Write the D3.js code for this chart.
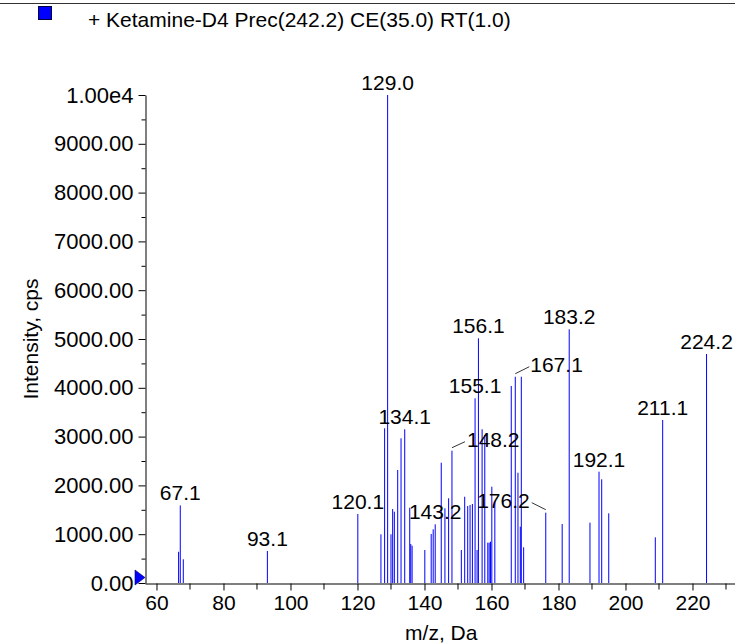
<!DOCTYPE html>
<html><head><meta charset="utf-8">
<script src="https://cdn.jsdelivr.net/npm/d3@7"></script>
<style>
html,body{margin:0;padding:0;background:#fff;}
svg{display:block;font-family:"Liberation Sans",Arial,sans-serif;}
</style></head>
<body><svg id="chart" width="735" height="644"></svg>
<script>
// ---- data ----
const seriesName = "+ Ketamine-D4 Prec(242.2) CE(35.0) RT(1.0)";
const peakMz = [66.6, 67.1, 68.0, 93.1, 120.1, 127.0, 128.1, 129.0, 130.0, 130.5, 131.0, 132.0, 133.0, 134.1, 135.6, 135.9, 136.3,
  140.1, 142.0, 142.6, 143.2, 145.0, 146.1, 147.2, 148.2, 151.0, 152.0, 152.9, 153.6, 154.3, 155.1, 155.7, 156.1, 157.2, 158.0,
  158.9, 159.3, 159.7, 160.1, 161.0, 165.9, 167.1, 167.9, 168.6, 168.9, 169.6, 176.2, 181.1, 183.2, 189.4, 192.1, 192.9, 195.0,
  208.9, 211.1, 224.2];
const peakIntensity = [640, 1590, 486, 656, 1414, 998, 3170, 10000, 998, 1516, 1461, 2316, 2965, 3150, 1543, 799, 764,
  676, 1004, 1100, 1203, 2465, 1531, 1736, 2711, 676, 1768, 1578, 1598, 1619, 3785, 676, 5014, 3150, 3033,
  826, 826, 846, 1973, 1666, 4037, 4227, 2260, 1154, 4227, 732, 1441, 1209, 5199, 1236, 2281, 2125, 1428,
  936, 3340, 4693];
const labelledMz = [67.1, 93.1, 120.1, 129.0, 134.1, 143.2, 148.2, 155.1, 156.1, 167.1, 176.2, 183.2, 192.1, 211.1, 224.2];
const xMajorTicks = [60, 80, 100, 120, 140, 160, 180, 200, 220];
const xMinorTicks = [70, 90, 110, 130, 150, 170, 190, 210, 230];
const yMajorTicks = [0, 1000, 2000, 3000, 4000, 5000, 6000, 7000, 8000, 9000, 10000];
const yMinorTicks = [500, 1500, 2500, 3500, 4500, 5500, 6500, 7500, 8500, 9500];
const xTitle = "m/z, Da";
const yTitle = "Intensity, cps";

// ---- drawing ----
const svg = d3.select("#chart");
const FS = 21;
const blue = "#0000ff";
const x = d3.scaleLinear().domain([56.57, 232.69]).range([145, 735]);
const y = d3.scaleLinear().domain([0, 10000]).range([583, 95]);

svg.append("rect").attr("width", 735).attr("height", 644).attr("fill", "#fff");
// top rule
svg.append("line").attr("x1", 0).attr("x2", 735).attr("y1", 3.5).attr("y2", 3.5).attr("stroke", "#333").attr("stroke-width", 1);

// legend
svg.append("rect").attr("x", 38.5).attr("y", 6.5).attr("width", 13).attr("height", 13)
  .attr("fill", blue).attr("stroke", "#000040").attr("stroke-width", 1);
svg.append("text").attr("x", 88).attr("y", 27).attr("font-size", FS).attr("fill", "#000").text(seriesName);

// peaks
const peaks = peakMz.map((m, i) => ({m, v: peakIntensity[i]}));
svg.append("g").selectAll("line").data(peaks).join("line")
  .attr("x1", d => x(d.m)).attr("x2", d => x(d.m))
  .attr("y1", y(0)).attr("y2", d => y(d.v))
  .attr("stroke", blue).attr("stroke-width", 1);

// y axis
const yAxis = d3.axisLeft(y).tickValues(yMajorTicks).tickSize(7).tickSizeOuter(0).tickPadding(5)
  .tickFormat(d => d === 10000 ? "1.00e4" : d3.format(".2f")(d));
const gy = svg.append("g").attr("transform", "translate(145.5,0)").call(yAxis);
gy.selectAll("text").attr("font-size", 22).attr("font-family", "Liberation Sans, Arial, sans-serif").attr("fill", "#000");
gy.selectAll("line,path").attr("stroke", "#000");
gy.append("g").selectAll("line").data(yMinorTicks).join("line")
  .attr("x1", -4).attr("x2", 0).attr("y1", d => y(d) + 0.5).attr("y2", d => y(d) + 0.5).attr("stroke", "#000");

// x axis
const xAxis = d3.axisBottom(x).tickValues(xMajorTicks).tickSize(7).tickSizeOuter(0).tickPadding(5)
  .tickFormat(d3.format("d"));
const gx = svg.append("g").attr("transform", "translate(0," + (y(0) + 0.5) + ")").call(xAxis);
gx.selectAll("text").attr("font-size", FS).attr("font-family", "Liberation Sans, Arial, sans-serif").attr("fill", "#000");
gx.selectAll("line,path").attr("stroke", "#000");
gx.append("g").selectAll("line").data(xMinorTicks).join("line")
  .attr("x1", d => x(d)).attr("x2", d => x(d)).attr("y1", 0).attr("y2", 6).attr("stroke", "#000");

// origin marker
svg.append("path")
  .attr("d", `M135,${y(0) - 13} L145,${y(0) - 5.5} L135,${y(0) + 2} Z`)
  .attr("fill", blue).attr("stroke", "#000060").attr("stroke-width", 0.6);

// titles
svg.append("text").attr("x", x((xMajorTicks[0] + xMinorTicks[xMinorTicks.length - 1]) / 2)).attr("y", 640)
  .attr("text-anchor", "middle").attr("font-size", FS).text(xTitle);
svg.append("text").attr("transform", `translate(38,${(y(0) + y(10000)) / 2}) rotate(-90)`)
  .attr("text-anchor", "middle").attr("font-size", FS).text(yTitle);

// peak labels
const leaderStyle = {
  "148.2": {side: 1, lx: 13, ly: -6, tdx: 15, tdy: -4},
  "167.1": {side: 1, lx: 14, ly: -7, tdx: 15, tdy: -5},
  "176.2": {side: -1, lx: -14, ly: -7, tdx: -16, tdy: -5}
};
const lab = svg.append("g").attr("font-size", FS).attr("fill", "#000");
labelledMz.forEach(m => {
  const p = peaks.find(d => Math.abs(d.m - m) < 0.05);
  const px = x(p.m), py = y(p.v);
  const txt = d3.format(".1f")(m);
  const ls = leaderStyle[txt];
  if (ls) {
    lab.append("line").attr("x1", px).attr("y1", py - 3).attr("x2", px + ls.lx).attr("y2", py - 3 + ls.ly)
      .attr("stroke", "#000").attr("stroke-width", 0.8);
    lab.append("text").attr("x", px + ls.tdx).attr("y", py + ls.tdy)
      .attr("text-anchor", ls.side > 0 ? "start" : "end").text(txt);
  } else {
    lab.append("text").attr("x", px).attr("y", py - 5).attr("text-anchor", "middle").text(txt);
  }
});
</script></body></html>
